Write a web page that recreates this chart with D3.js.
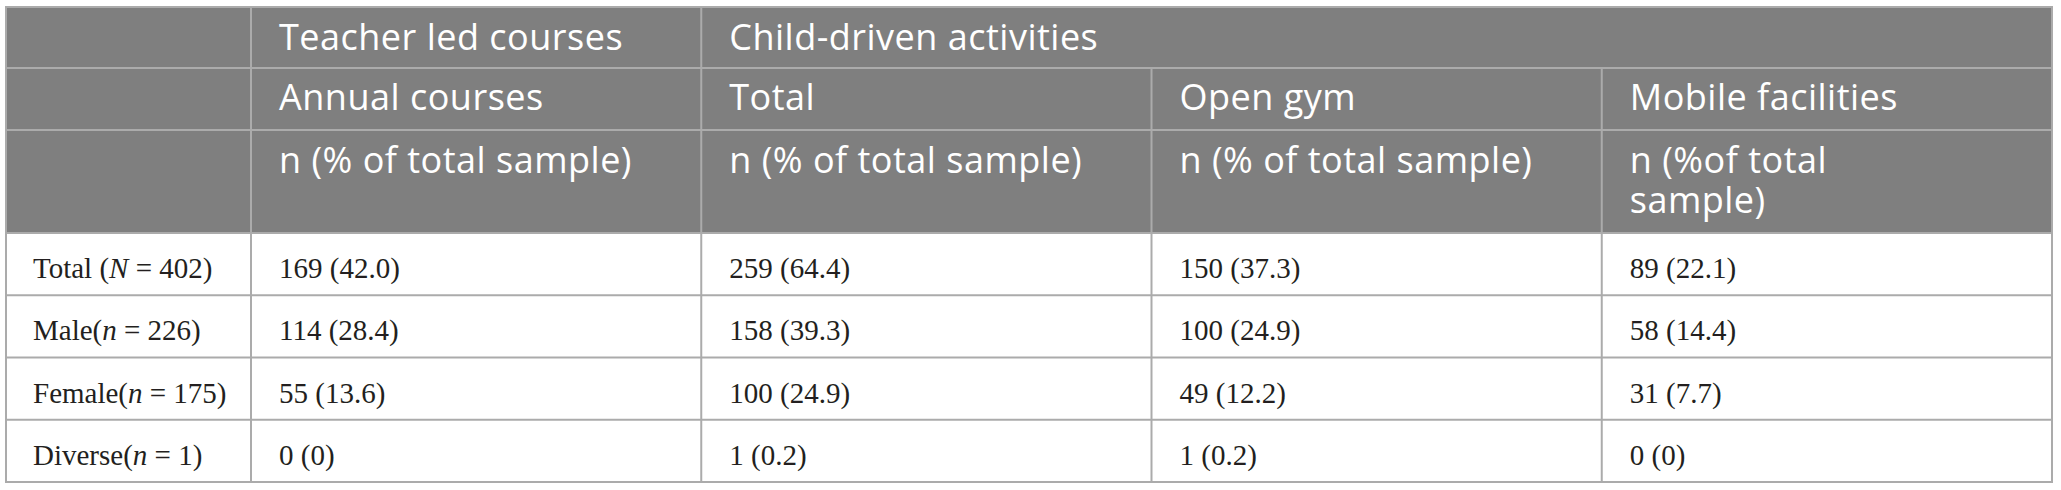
<!DOCTYPE html>
<html>
<head>
<meta charset="utf-8">
<script src="https://cdn.jsdelivr.net/npm/d3@7"></script>
<style>
  html, body { margin: 0; padding: 0; background: #fff; }
  svg { display: block; }
</style>
</head>
<body>
<div id="table"></div>
<script>
/* global d3 */

// Table content
var groupHeads = [ "Teacher led courses", "Child-driven activities" ];
var groupSpans = [ 1, 3 ];
var subHeads = [ "Annual courses", "Total", "Open gym", "Mobile facilities" ];
var unitHeads = [ "n (% of total sample)", "n (% of total sample)", "n (% of total sample)", "n (%of total\nsample)" ];

var rowNames = [ "Total ", "Male", "Female", "Diverse" ];
var rowSymbols = [ "N", "n", "n", "n" ];
var rowSizes = [ 402, 226, 175, 1 ];

var counts = [
  [ 169, 259, 150, 89 ],
  [ 114, 158, 100, 58 ],
  [ 55, 100, 49, 31 ],
  [ 0, 1, 1, 0 ]
];
var percents = [
  [ "42.0", "64.4", "37.3", "22.1" ],
  [ "28.4", "39.3", "24.9", "14.4" ],
  [ "13.6", "24.9", "12.2", "7.7" ],
  [ "0", "0.2", "0.2", "0" ]
];

var width = 2061,
  height = 490,
  left = 6, right = 2052,
  firstCol = 251,
  headEdges = [ 7, 68, 130, 233 ],
  bottom = 482,
  pad = 28,
  lineColor = "#ababab",
  headFill = "#7f7f7f";

var svg = d3.select( "#table" ).append( "svg" )
  .attr( "width", width )
  .attr( "height", height );

// Column and row scales
var x = d3.scaleBand().domain( d3.range( subHeads.length ) ).range( [ firstCol, right ] );
var y = d3.scaleBand().domain( d3.range( rowNames.length ) ).range( [ headEdges[ 3 ], bottom ] );

// Header background
svg.append( "rect" )
  .attr( "x", left ).attr( "y", headEdges[ 0 ] )
  .attr( "width", right - left ).attr( "height", headEdges[ 3 ] - headEdges[ 0 ] )
  .attr( "fill", headFill );

var headFont = "'Open Sans', 'Noto Sans', sans-serif";
var bodyFont = "'Liberation Serif', 'Times New Roman', serif";

function headStyle( sel ) {
  sel.attr( "fill", "#fff" )
    .style( "font-family", headFont )
    .style( "font-size", "36px" )
    .style( "letter-spacing", "0.5px" );
}

// First header row (grouped)
var groupStart = groupSpans.map( function( s, i ) { return d3.sum( groupSpans.slice( 0, i ) ); } );
svg.append( "g" ).selectAll( "text" )
  .data( groupHeads )
  .join( "text" )
    .attr( "x", function( d, i ) { return x( groupStart[ i ] ) + pad; } )
    .attr( "y", headEdges[ 0 ] + 43 )
    .call( headStyle )
    .text( function( d ) { return d; } );

// Second header row
svg.append( "g" ).selectAll( "text" )
  .data( subHeads )
  .join( "text" )
    .attr( "x", function( d, i ) { return x( i ) + pad; } )
    .attr( "y", headEdges[ 1 ] + 42 )
    .call( headStyle )
    .text( function( d ) { return d; } );

// Third header row (last one wraps)
svg.append( "g" ).selectAll( "text" )
  .data( unitHeads )
  .join( "text" )
    .call( headStyle )
    .each( function( d, i ) {
      d3.select( this ).selectAll( "tspan" )
        .data( d.split( "\n" ) )
        .join( "tspan" )
          .attr( "x", x( i ) + pad )
          .attr( "y", function( l, j ) { return headEdges[ 2 ] + 43 + j * 40; } )
          .text( function( l ) { return l; } );
    } );

// Body: row labels
var labels = svg.append( "g" ).selectAll( "text" )
  .data( rowNames )
  .join( "text" )
    .attr( "x", left + 27 )
    .attr( "y", function( d, i ) { return y( i ) + 45; } )
    .attr( "fill", "#231f20" )
    .style( "font-family", bodyFont )
    .style( "font-size", "29px" );

labels.append( "tspan" ).text( function( d ) { return d + "("; } );
labels.append( "tspan" ).style( "font-style", "italic" ).text( function( d, i ) { return rowSymbols[ i ]; } );
labels.append( "tspan" ).text( function( d, i ) { return " = " + rowSizes[ i ] + ")"; } );

// Body: values
svg.append( "g" ).selectAll( "g" )
  .data( counts )
  .join( "g" )
    .attr( "transform", function( d, i ) { return "translate(0," + ( y( i ) + 45 ) + ")"; } )
  .each( function( row, i ) {
    d3.select( this ).selectAll( "text" )
      .data( row )
      .join( "text" )
        .attr( "x", function( d, j ) { return x( j ) + pad; } )
        .attr( "fill", "#231f20" )
        .style( "font-family", bodyFont )
        .style( "font-size", "29px" )
        .text( function( d, j ) { return d + " (" + percents[ i ][ j ] + ")"; } );
  } );

// Grid lines
var grid = svg.append( "g" )
  .attr( "stroke", lineColor )
  .attr( "stroke-width", 2 )
  .attr( "fill", "none" );

var hLines = headEdges.slice( 1 ).concat( y.domain().slice( 1 ).map( function( i ) { return y( i ); } ) );
grid.selectAll( ".h" )
  .data( hLines )
  .join( "line" )
    .attr( "class", "h" )
    .attr( "x1", left ).attr( "x2", right )
    .attr( "y1", function( d ) { return d; } )
    .attr( "y2", function( d ) { return d; } );

// vertical: first col and group edges run full height, the rest start below the first row
var vLines = x.domain().map( function( i ) {
  var isGroupEdge = groupStart.indexOf( i ) >= 0;
  return { x: x( i ), y1: isGroupEdge ? headEdges[ 0 ] : headEdges[ 1 ] };
} );
grid.selectAll( ".v" )
  .data( vLines )
  .join( "line" )
    .attr( "class", "v" )
    .attr( "x1", function( d ) { return d.x; } )
    .attr( "x2", function( d ) { return d.x; } )
    .attr( "y1", function( d ) { return d.y1; } )
    .attr( "y2", bottom );

grid.append( "rect" )
  .attr( "x", left ).attr( "y", headEdges[ 0 ] )
  .attr( "width", right - left ).attr( "height", bottom - headEdges[ 0 ] );
</script>
</body>
</html>
